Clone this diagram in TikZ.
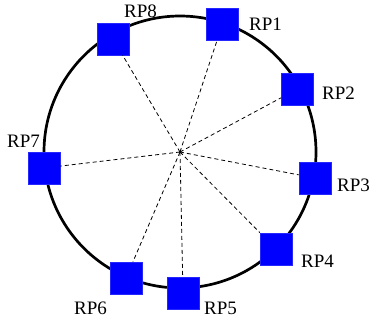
\documentclass[tikz,border=0pt]{standalone}
\usepackage{fontspec}
\setmainfont{Liberation Serif}
\begin{document}
\begin{tikzpicture}[x=1pt,y=-1pt,
  rp/.style={draw=blue!85!white,fill=blue,minimum size=32pt,inner sep=0pt,line width=0.6pt},
  lbl/.style={anchor=base west,inner sep=0pt,font=\fontsize{19}{21}\selectfont},
  spoke/.style={dashed,line width=0.8pt,dash pattern=on 4pt off 3pt}]
\useasboundingbox (0,0) rectangle (370,322);
% ring and hub
\coordinate (hub) at (180,152);
\draw[line width=2.7pt] (hub) circle[radius=136];
% rendezvous points on the ring
\node[rp] (rp1) at (222.5,24) {};
\node[rp] (rp2) at (297.5,89) {};
\node[rp] (rp3) at (315,178) {};
\node[rp] (rp4) at (276,249) {};
\node[rp] (rp5) at (183,293) {};
\node[rp] (rp6) at (126,278) {};
\node[rp] (rp7) at (44,168) {};
\node[rp] (rp8) at (113,39) {};
% spokes from the hub
\foreach \i in {1,...,8} \draw[spoke] (hub) -- (rp\i);
% labels
\node[lbl] (l1) at (249,30) {RP1};
\node[lbl] (l2) at (322,99) {RP2};
\node[lbl] (l3) at (337,191) {RP3};
\node[lbl] (l4) at (301,267) {RP4};
\node[lbl] (l5) at (204,314) {RP5};
\node[lbl] (l6) at (74,314) {RP6};
\node[lbl] (l7) at (7,147) {RP7};
\node[lbl] (l8) at (124,17) {RP8};
\end{tikzpicture}
\end{document}
